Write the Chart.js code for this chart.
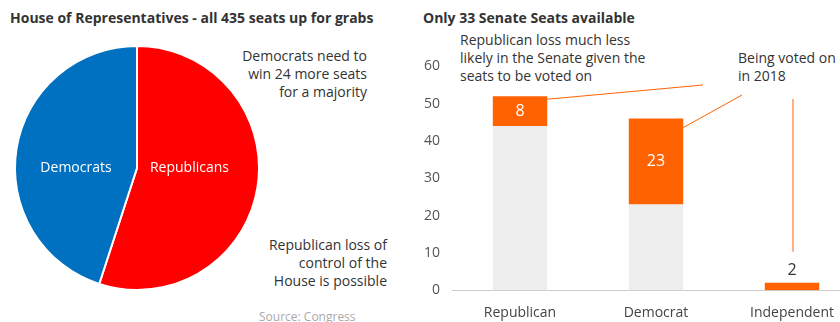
<!DOCTYPE html>
<html>
<head>
<meta charset="utf-8">
<script src="https://cdn.jsdelivr.net/npm/chart.js@4.4.1/dist/chart.umd.min.js"></script>
<style>
  html, body { margin: 0; padding: 0; background: #fff; }
  body { width: 840px; height: 322px; position: relative; overflow: hidden; font-family: "Open Sans", sans-serif; color: #333; }
  .t { position: absolute; white-space: nowrap; font-size: 14px; line-height: 18px; }
  .title { font-weight: bold; font-size: 14px; color: #333; }
  .r { text-align: right; }
  #pieBox { position: absolute; left: 12px; top: 45px; width: 250px; height: 246px; }
  #barBox { position: absolute; left: 412px; top: 46px; width: 448px; height: 289px; }
</style>
</head>
<body>
<div class="t title" style="left:10px; top:9px;">House of Representatives - all 435 seats up for grabs</div>
<div class="t title" style="left:423px; top:9px;">Only 33 Senate Seats available</div>

<div class="t r" style="right:473px; top:47px;">Democrats need to<br>win 24 more seats<br>for a majority</div>
<div class="t r" style="right:453px; top:236px;">Republican loss of<br>control of the<br>House is possible</div>
<div class="t" style="left:259px; top:308px; font-size:12px; color:#aaa;">Source: Congress</div>

<div class="t" style="left:460px; top:31px;">Republican loss much less<br>likely in the Senate given the<br>seats to be voted on</div>
<div class="t" style="left:738px; top:49px;">Being voted on<br>in 2018</div>

<div id="pieBox"><canvas id="pie"></canvas></div>
<div id="barBox"><canvas id="bar"></canvas></div>

<script>
// House of Representatives
var houseParties = ['Republicans', 'Democrats'];
var houseSeats = [236, 193];

// Senate
var categories = ['Republican', 'Democrat', 'Independent'];
var notUpSeats = [44, 23, 0];
var upSeats = [8, 23, 2];

var FONT = '"Open Sans", sans-serif';

var pie = new Chart(document.getElementById('pie'), {
    type: 'pie',
    data: {
        labels: houseParties,
        datasets: [{
            data: houseSeats,
            backgroundColor: ['#FF0000', '#0070C0'],
            borderColor: '#ffffff',
            borderWidth: 2
        }]
    },
    options: {
        animation: false,
        responsive: true,
        maintainAspectRatio: false,
        plugins: { legend: { display: false }, tooltip: { enabled: false } }
    },
    plugins: [{
        id: 'sliceLabels',
        afterDraw: (chart) => {
            const ctx = chart.ctx;
            const arcs = chart.getDatasetMeta(0).data;
            const offs = [0.43, -0.5];
            ctx.save();
            ctx.fillStyle = '#ffffff';
            ctx.font = '14px ' + FONT;
            ctx.textAlign = 'center';
            ctx.textBaseline = 'middle';
            arcs.forEach((a, i) => {
                ctx.fillText(chart.data.labels[i], a.x + offs[i] * a.outerRadius, a.y);
            });
            ctx.restore();
        }
    }]
});

var bar = new Chart(document.getElementById('bar'), {
    type: 'bar',
    data: {
        labels: categories,
        datasets: [
            {
                label: 'Not up',
                data: notUpSeats,
                backgroundColor: '#EEEEEE',
                barPercentage: 0.4,
                categoryPercentage: 1
            },
            {
                label: 'Being voted on in 2018',
                data: upSeats,
                backgroundColor: '#FF6200',
                barPercentage: 0.4,
                categoryPercentage: 1
            }
        ]
    },
    options: {
        animation: false,
        responsive: true,
        maintainAspectRatio: false,
        layout: { padding: { top: 8.5, right: 0, left: 0, bottom: 0 } },
        plugins: { legend: { display: false }, tooltip: { enabled: false } },
        scales: {
            x: {
                stacked: true,
                grid: { display: false, drawTicks: false },
                border: { display: true, color: '#cccccc', width: 1 },
                ticks: { color: '#444', font: { family: FONT, size: 14 }, padding: 14 }
            },
            y: {
                stacked: true,
                min: 0,
                max: 60,
                ticks: { stepSize: 10, color: '#555', font: { family: FONT, size: 14 }, padding: 12 },
                grid: { display: false, drawTicks: false },
                border: { display: false }
            }
        }
    },
    plugins: [{
        id: 'labelsAndLeaders',
        afterDraw: (chart) => {
            const ctx = chart.ctx;
            const els = chart.getDatasetMeta(1).data;
            const L = 412, T = 46; // canvas offset on page
            ctx.save();
            ctx.font = '16px ' + FONT;
            ctx.textAlign = 'center';
            ctx.textBaseline = 'middle';
            els.forEach((el, i) => {
                const h = el.base - el.y;
                if (h > 20) {
                    ctx.fillStyle = '#ffffff';
                    ctx.fillText(upSeats[i], el.x, (el.y + el.base) / 2);
                } else {
                    ctx.fillStyle = '#333';
                    ctx.fillText(upSeats[i], el.x, el.y - 12);
                }
            });
            // leader lines
            ctx.strokeStyle = '#FF6200';
            ctx.lineWidth = 1;
            const r = els[0], d = els[1], n = els[2];
            ctx.beginPath();
            ctx.moveTo(r.x + r.width / 2, r.y + 3);
            ctx.lineTo(703 - L, 85 - T);
            ctx.moveTo(d.x + d.width / 2, d.y + 9);
            ctx.lineTo(742 - L, 95 - T);
            ctx.moveTo(n.x + 1, 99 - T);
            ctx.lineTo(n.x + 1, n.y - 31);
            ctx.stroke();
            ctx.restore();
        }
    }]
});
</script>
</body>
</html>
